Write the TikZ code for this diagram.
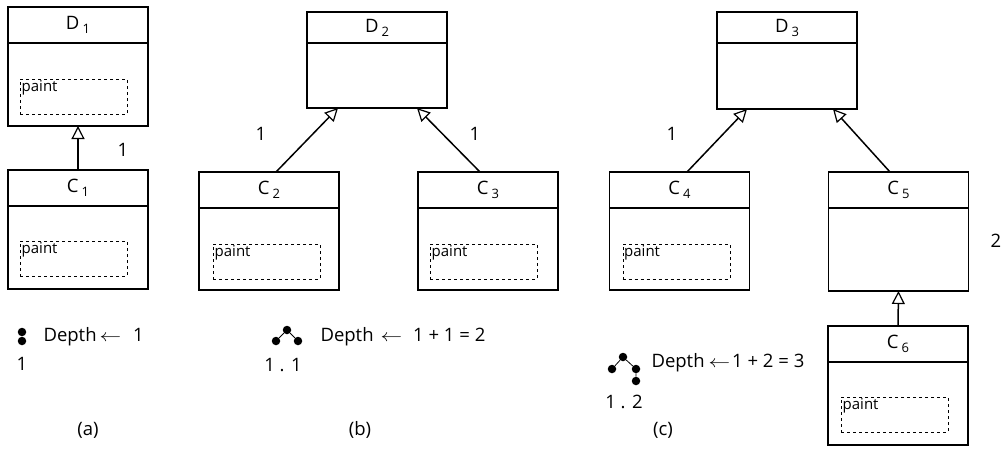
\documentclass[tikz,border=0pt]{standalone}
\usepackage{fontspec}
\setmainfont{Open Sans}
\usetikzlibrary{positioning,arrows.meta}
\newcommand{\idx}[1]{\,\raisebox{-4pt}{\fontsize{13}{13}\selectfont #1}}
\newcommand{\getsarrow}{\scalebox{1.25}[1]{$\leftarrow$}}
\begin{document}
\begin{tikzpicture}[x=1pt,y=-1pt,
    font=\fontsize{18.5}{22}\selectfont,
    header/.style={draw, line width=1.8pt, outer sep=0pt, inner sep=0pt, minimum width=140pt, minimum height=#1},
    header/.default=36pt,
    body/.style={draw, line width=1.8pt, outer sep=0pt, inner sep=0pt, minimum width=140pt, minimum height=#1},
    body/.default=83pt,
    paintbox/.style={draw, dashed, thin, inner sep=0pt, minimum width=107pt, minimum height=35pt,
      label={[anchor=north west, inner sep=1.5pt, font=\fontsize{15}{17}\selectfont]north west:paint}},
    inherit/.style={-{Triangle[open, length=13pt, width=13pt, line width=1.2pt]}, line width=1.5pt},
    dot/.style={circle, fill, inner sep=0pt, minimum size=8.5pt}]
   \useasboundingbox (0,0) rectangle (1002,448);

   % (a)
   \node[header] (D1) at (78,25) {D\idx{1}};
   \node[body] (D1b) [below=0pt of D1] {};
   \node[paintbox] (P1) [below right=36pt and 12pt of D1b.north west] {};
   \node[header] (C1) at (78,188) {C\idx{1}};
   \node[body] (C1b) [below=0pt of C1] {};
   \node[paintbox] (P2) [below right=35pt and 12pt of C1b.north west] {};
   \draw[inherit] (C1.north) -- (D1b.south);
   \node (la) at (123,150) {1};

   % (b)
   \node[header=31pt] (D2) at (377,27.5) {D\idx{2}};
   \node[body=65pt] (D2b) [below=0pt of D2] {};
   \node[header] (C2) at (269,190) {C\idx{2}};
   \node[body=82pt] (C2b) [below=0pt of C2] {};
   \node[paintbox] (P3) [below right=36pt and 14pt of C2b.north west] {};
   \node[header] (C3) at (488,190) {C\idx{3}};
   \node[body=82pt] (C3b) [below=0pt of C3] {};
   \node[paintbox] (P4) [below right=36pt and 12pt of C3b.north west] {};
   \draw[inherit] ([xshift=7pt]C2.north) -- ([xshift=-39pt]D2b.south);
   \draw[inherit] ([xshift=-8pt]C3.north) -- ([xshift=40pt]D2b.south);
   \node (lb1) at (261,134) {1};
   \node (lb2) at (475,134) {1};

   % (c)
   \node[header=31pt] (D3) at (787,27.5) {D\idx{3}};
   \node[body=66pt] (D3b) [below=0pt of D3] {};
   \node[header] (C4) at (679.5,190) {C\idx{4}};
   \node[body=82pt] (C4b) [below=0pt of C4] {};
   \node[paintbox] (P5) [below right=36pt and 13pt of C4b.north west] {};
   \node[header] (C5) at (898.5,190) {C\idx{5}};
   \node[body] (C5b) [below=0pt of C5] {};
   \node[header] (C6) at (898,344) {C\idx{6}};
   \node[body] (C6b) [below=0pt of C6] {};
   \node[paintbox] (P6) [below right=35pt and 13pt of C6b.north west] {};
   \draw[inherit] ([xshift=7.5pt]C4.north) -- ([xshift=-40pt]D3b.south);
   \draw[inherit] ([xshift=-8.5pt]C5.north) -- ([xshift=46pt]D3b.south);
   \draw[inherit] (C6.north) -- (C5b.south);
   \node (lc1) at (672,134) {1};
   \node (lc2) at (996,241) {2};

   % depth trees
   \node[dot] (a1) at (22,332) {};
   \node[dot] (a2) at (22,341) {};
   \node[anchor=west] (da) at (40,337) {Depth\hspace{3pt}\getsarrow\hspace{12pt}1};
   \node (ta) at (22,364) {1};

   \node[dot] (b1) at (287,330) {};
   \node[dot] (b2) at (276,341) {};
   \node[dot] (b3) at (298,341) {};
   \draw[thick] (b2) -- (b1) -- (b3);
   \node[anchor=west] (db) at (317,337) {Depth\hspace{7pt}\getsarrow\hspace{11pt}1 + 1 = 2};
   \node (tb) at (283,365) {1 . 1};

   \node[dot] (c1) at (623,357) {};
   \node[dot] (c2) at (612,369) {};
   \node[dot] (c3) at (636,369) {};
   \node[dot] (c4) at (636,381) {};
   \draw[thick] (c2) -- (c1) -- (c3) -- (c4);
   \node[anchor=west] (dc) at (648,363) {Depth\hspace{4pt}\getsarrow\hspace{2pt}1 + 2 = 3};
   \node (tc) at (624,402) {1 . 2};

   \node (capa) at (88,430) {(a)};
   \node (capb) at (360,430) {(b)};
   \node (capc) at (663,430) {(c)};
\end{tikzpicture}
\end{document}
